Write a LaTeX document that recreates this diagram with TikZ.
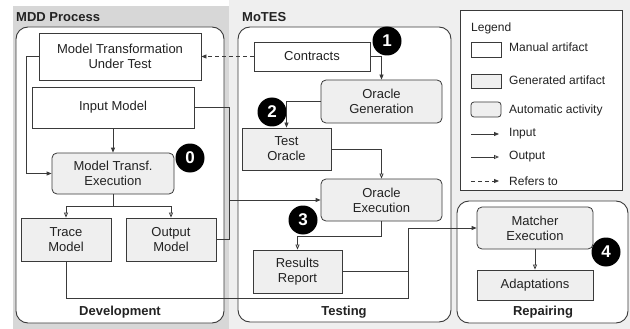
\documentclass[tikz,border=0pt]{standalone}
\usepackage{fontspec}
\setmainfont{Liberation Sans}
\usetikzlibrary{arrows.meta}
\definecolor{panelA}{HTML}{D7D7D7}
\definecolor{panelB}{HTML}{EFEFEF}
\definecolor{genfill}{HTML}{EFEFEF}
\definecolor{edge}{HTML}{3A3A3A}
\definecolor{txt}{HTML}{222222}
\begin{document}
\begin{tikzpicture}[x=1pt,y=-1pt,
  font=\fontsize{13}{15}\selectfont,
  box/.style={draw=edge, line width=0.8pt, fill=white, inner sep=0pt, align=center, text=txt},
  manual/.style={box},
  gen/.style={box, fill=genfill},
  act/.style={box, fill=genfill, rounded corners=5pt},
  conn/.style={draw=edge, line width=0.8pt},
  inarr/.style={conn, -{Triangle[length=5pt,width=4pt]}},
  outarr/.style={conn, -{Triangle[open,length=5pt,width=4pt,fill=white]}},
  refarr/.style={conn, dash pattern=on 4pt off 3pt, -{Triangle[length=5pt,width=4pt]}},
  panel/.style={draw=edge, line width=0.9pt, fill=white, rounded corners=12pt},
  num/.style={circle, fill=black, text=white, font=\fontsize{17}{17}\selectfont\bfseries, minimum size=29pt, inner sep=0pt},
  title/.style={font=\fontsize{13}{15}\selectfont\bfseries, text=txt},
  legtext/.style={font=\fontsize{12}{14}\selectfont, text=txt, anchor=west, inner sep=0pt}
]
\useasboundingbox (0,0) rectangle (630,329);
% backgrounds
\fill[panelB] (229,0) rectangle (630,329);
\fill[panelA] (13,6) rectangle (229,329);
% panels
\draw[panel] (16,27) rectangle (224,323);
\draw[panel] (238,27) rectangle (451,322);
\draw[panel] (457,201) rectangle (628,323);
\draw[draw=edge, line width=0.8pt, fill=white] (460,10) rectangle (622,190);
% titles
\node[title, anchor=west, inner sep=0pt] (tmdd) at (16,17) {MDD Process};
\node[title, anchor=west, inner sep=0pt] (tmotes) at (242,17) {MoTES};
\node[title] (tdev) at (120,312) {Development};
\node[title] (ttest) at (344,312) {Testing};
\node[title] (trep) at (543,312) {Repairing};
% MDD nodes
\node[manual, minimum width=162pt, minimum height=47pt] (mtut) at (120,56.5) {Model Transformation\\Under Test};
\node[manual, minimum width=162pt, minimum height=41pt] (input) at (113,107.5) {Input Model};
\node[act, minimum width=122pt, minimum height=41pt] (mte) at (113,173.5) {Model Transf.\\Execution};
\node[gen, minimum width=90pt, minimum height=43pt] (trace) at (66,239.5) {Trace\\Model};
\node[gen, minimum width=90pt, minimum height=43pt] (output) at (171,239.5) {Output\\Model};
% MoTES nodes
\node[manual, minimum width=116pt, minimum height=29pt] (contracts) at (312,56.5) {Contracts};
\node[act, minimum width=121pt, minimum height=43pt] (ogen) at (381.5,101.5) {Oracle\\Generation};
\node[gen, minimum width=89pt, minimum height=42pt] (toracle) at (286.5,149) {Test\\Oracle};
\node[act, minimum width=121pt, minimum height=42pt] (oexec) at (381.5,200) {Oracle\\Execution};
\node[gen, minimum width=89pt, minimum height=43pt] (results) at (297.5,271.5) {Results\\Report};
% Repairing nodes
\node[act, minimum width=116pt, minimum height=42pt] (matcher) at (535,228) {Matcher\\Execution};
\node[gen, minimum width=116pt, minimum height=30pt] (adapt) at (535,285) {Adaptations};
% numbers
\node[num] (n0) at (190,158) {0};
\node[num] (n1) at (387,41) {1};
\node[num] (n2) at (272,112) {2};
\node[num] (n3) at (303,220) {3};
\node[num] (n4) at (606,252) {4};
% coordinates
\coordinate (split) at (113,206);
\coordinate (busbot) at (229,239.5);
\coordinate (busin) at (229,200);
\coordinate (tb) at (408,298);
\coordinate (tm) at (408,228);
% connectors
\draw[inarr] (input) -- (mte);
\draw[inarr] (mtut.west) -- ++(-12,0) |- (mte.west);
\draw[conn] (mte.south) -- (split);
\draw[outarr] (split) -| (trace.north);
\draw[outarr] (split) -| (output.north);
\draw[refarr] (contracts.west) -- (mtut.east);
\draw[inarr] (contracts.east) -| (ogen.north);
\draw[inarr] (ogen.west) -| (toracle.north);
\draw[outarr] (toracle.east) -| (oexec.north);
\draw[outarr] (oexec.south) -- ++(0,15) -| (results.north);
\draw[conn] (input.east) -| (busbot) -- (output.east);
\draw[inarr] (busin) -- (oexec.west);
\draw[inarr] (trace.south) |- (tb) -- (tm) -- (matcher.west);
\draw[conn] (results.east) -- (results.east -| tb);
\draw[outarr] (matcher) -- (adapt);
% legend
\node[legtext] (lg) at (471,28) {Legend};
\node[manual, minimum width=30pt, minimum height=15pt] (lm) at (486,49.5) {};
\node[gen, minimum width=30pt, minimum height=14pt] (lgn) at (486,81) {};
\node[act, rounded corners=3pt, minimum width=30pt, minimum height=15pt] (la) at (486,109.5) {};
\coordinate (li1) at (471,134);
\coordinate (li2) at (499,134);
\coordinate (lo1) at (471,157);
\coordinate (lo2) at (499,157);
\coordinate (lr1) at (471,181);
\coordinate (lr2) at (499,181);
\draw[inarr] (li1) -- (li2);
\draw[outarr] (lo1) -- (lo2);
\draw[refarr] (lr1) -- (lr2);
\node[legtext] (tm1) at (509,47) {Manual artifact};
\node[legtext] (tm2) at (509,80) {Generated artifact};
\node[legtext] (tm3) at (509,110) {Automatic activity};
\node[legtext] (tm4) at (509,134) {Input};
\node[legtext] (tm5) at (509,157) {Output};
\node[legtext] (tm6) at (509,181) {Refers to};
\end{tikzpicture}
\end{document}
